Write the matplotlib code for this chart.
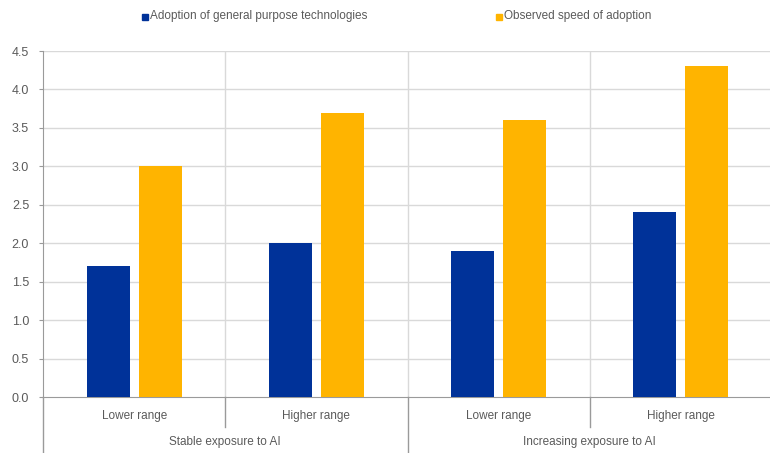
import matplotlib
matplotlib.use("Agg")
import matplotlib.pyplot as plt
from matplotlib.lines import Line2D
from matplotlib.patches import Rectangle
import numpy as np

plt.rcParams['font.family'] = ['Liberation Sans', 'DejaVu Sans']

# Data
sub_labels = ["Lower range", "Higher range", "Lower range", "Higher range"]
group_labels = ["Stable exposure to AI", "Increasing exposure to AI"]
series_names = ["Adoption of general purpose technologies", "Observed speed of adoption"]
general_purpose = [1.7, 2.0, 1.9, 2.4]
observed_speed = [3.0, 3.7, 3.6, 4.3]
y_ticks = [0.0, 0.5, 1.0, 1.5, 2.0, 2.5, 3.0, 3.5, 4.0, 4.5]

BLUE = "#003299"
YELLOW = "#FFB400"
TEXT = "#5a5a5a"
GRID = "#d9d9d9"
AXIS = "#9a9a9a"
FS = 8.5

W, H = 770, 453
fig = plt.figure(figsize=(W / 100, H / 100), dpi=100)
ax = fig.add_axes([43 / W, 1 - 397 / H, 729 / W, 346 / H])

x = np.arange(len(sub_labels)) + 0.5
bw = 0.236
off = 0.143
ax.bar(x - off, general_purpose, bw, color=BLUE, zorder=3)
ax.bar(x + off, observed_speed, bw, color=YELLOW, zorder=3)

ax.set_xlim(0, 4)
ax.set_ylim(0, 4.5)
ax.set_yticks(y_ticks)
ax.set_yticklabels([f"{v:.1f}" for v in y_ticks], color=TEXT, fontsize=FS + 0.5)
ax.tick_params(axis="y", length=3, color=AXIS, pad=7)
ax.set_xticks([])

for v in y_ticks[1:]:
    ax.axhline(v, color=GRID, lw=1, zorder=1)
for b in [1, 2, 3]:
    ax.axvline(b, color=GRID, lw=1, zorder=1)

for s in ["top", "right"]:
    ax.spines[s].set_visible(False)
ax.spines["left"].set_color(AXIS)
ax.spines["bottom"].set_color(AXIS)

# Category axis below the plot
trans = ax.get_xaxis_transform()
def yfrac(py):
    return (397 - py) / 346

ax.add_line(Line2D([0, 0], [0, yfrac(453)], transform=trans, color=AXIS, lw=1, clip_on=False))
ax.add_line(Line2D([2, 2], [0, yfrac(453)], transform=trans, color=AXIS, lw=1, clip_on=False))
for b in [1, 3]:
    ax.add_line(Line2D([b, b], [0, yfrac(427)], transform=trans, color=AXIS, lw=1, clip_on=False))

for xi, lab in zip(x, sub_labels):
    ax.text(xi, yfrac(416), lab, transform=trans, ha="center", va="center",
            fontsize=FS, color=TEXT)
for gi, lab in enumerate(group_labels):
    ax.text(gi * 2 + 1, yfrac(442), lab, transform=trans, ha="center", va="center",
            fontsize=FS, color=TEXT)

# Legend
def legend_item(px, color, label):
    fig.patches.append(Rectangle((px / W, 1 - 20 / H), 6 / W, 6 / H, transform=fig.transFigure,
                                 color=color, figure=fig))
    fig.text((px + 8) / W, 1 - 16.5 / H, label, ha="left", va="center", fontsize=FS, color=TEXT)

legend_item(142, BLUE, series_names[0])
legend_item(496, YELLOW, series_names[1])

fig.savefig("out.png", dpi=100)
